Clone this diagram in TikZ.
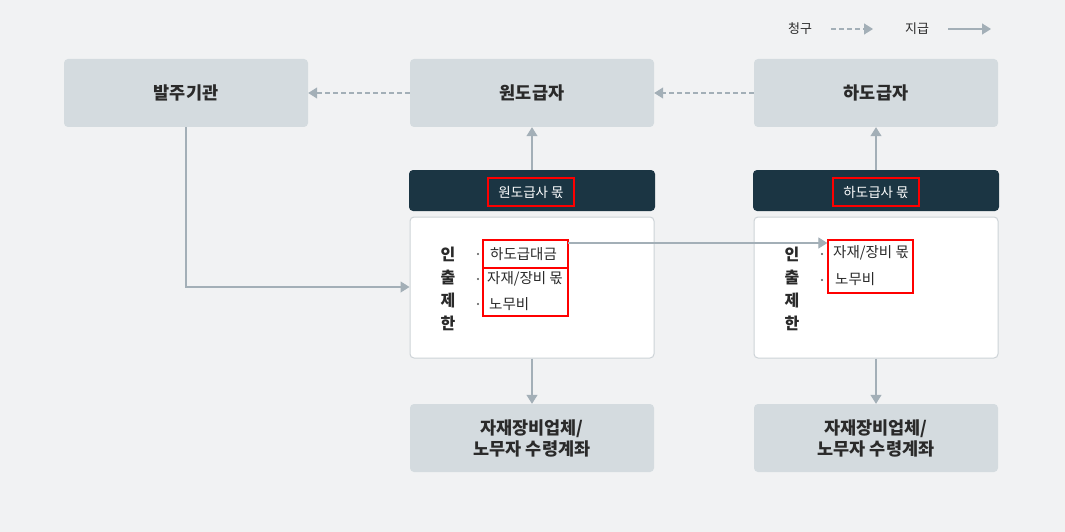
\documentclass[tikz,border=0pt]{standalone}
\usepackage{fontspec}
\setmainfont{Noto Sans CJK KR}
\usetikzlibrary{arrows.meta}
\definecolor{bg}{HTML}{F1F2F3}
\definecolor{boxfill}{HTML}{D4DBDF}
\definecolor{ln}{HTML}{A3AFB7}
\definecolor{dark}{HTML}{1B3543}
\definecolor{txt}{HTML}{2A2A2A}
\definecolor{wborder}{HTML}{CDD3D7}
\tikzset{
  topbox/.style={fill=boxfill, rounded corners=4pt, minimum width=244pt, minimum height=68pt, inner sep=0pt, font=\fontsize{17.5}{21}\selectfont\bfseries, text=txt, align=center},
  headbox/.style={fill=dark, rounded corners=4pt, minimum width=246pt, minimum height=41pt, inner sep=0pt},
  whitebox/.style={fill=white, draw=wborder, line width=1pt, rounded corners=4pt, minimum width=244pt, minimum height=141pt, inner sep=0pt},
  redbox/.style={draw=red, line width=1.3pt, inner sep=0pt},
  headtxt/.style={text=white, font=\fontsize{13.5}{15}\selectfont, inner sep=0pt},
  itemtxt/.style={text=txt, font=\fontsize{14.5}{16}\selectfont, inner sep=0pt, anchor=west},
  bul/.style={fill=txt!80, circle, minimum size=2.4pt, inner sep=0pt},
  vtxt/.style={text=txt, font=\fontsize{16}{23}\selectfont\bfseries, align=center, inner sep=0pt},
  pay/.style={draw=ln, line width=1.2pt, -{Triangle[length=9pt,width=11pt]}},
  claim/.style={draw=ln, line width=1.2pt, dash pattern=on 5pt off 3pt, -{Triangle[length=9pt,width=11pt]}},
  legtxt/.style={text=txt, font=\fontsize{13}{14}\selectfont, inner sep=0pt}
}
\begin{document}
\begin{tikzpicture}[x=1pt,y=-1pt]
\fill[bg] (0,0) rectangle (1065,532);
\useasboundingbox (0,0) rectangle (1065,532);
% legend
\node[legtxt] (lc) at (800,29) {청구};
\coordinate (lc1) at (831,29);
\coordinate (lc2) at (873,29);
\draw[claim] (lc1) -- (lc2);
\node[legtxt] (lp) at (917,29) {지급};
\coordinate (lp1) at (948,29);
\coordinate (lp2) at (991,29);
\draw[pay] (lp1) -- (lp2);
% top boxes
\node[topbox] (owner) at (186,93) {발주기관};
\node[topbox] (prime) at (532,93) {원도급자};
\node[topbox] (sub) at (876,93) {하도급자};
\draw[claim] (prime.west) -- (owner.east);
\draw[claim] (sub.west) -- (prime.east);
% headers
\node[headbox] (h1) at (532,190.5) {};
\node[headbox] (h2) at (876,190.5) {};
\node[headtxt] (h1t) at (531,192) {원도급사 몫};
\node[headtxt] (h2t) at (876,192) {하도급사 몫};
\node[redbox, minimum width=86pt, minimum height=28pt] (h1r) at (531,192) {};
\node[redbox, minimum width=86pt, minimum height=28pt] (h2r) at (876,192) {};
% white boxes
\node[whitebox] (w1) at (532,287.5) {};
\node[whitebox] (w2) at (876,287.5) {};
% bottom boxes
\node[topbox] (acc1) at (532,438) {자재장비업체/\\노무자 수령계좌};
\node[topbox] (acc2) at (876,438) {자재장비업체/\\노무자 수령계좌};
% vertical arrows
\draw[pay] (h1.north) -- (prime.south);
\draw[pay] (h2.north) -- (sub.south);
\draw[pay] (w1.south) -- (acc1.north);
\draw[pay] (w2.south) -- (acc2.north);
% owner to prime white box
\coordinate (oc) at (186,287);
\draw[pay] (owner.south) -- (oc) -- (w1.west |- oc);
% left contents
\node[vtxt] (v1) at (448,289) {인\\출\\제\\한};
\node[bul] (b11) at (478,254) {};
\node[bul] (b12) at (478,279) {};
\node[bul] (b13) at (478,304) {};
\node[itemtxt] (i11) at (490,254) {하도급대금};
\node[itemtxt] (i12) at (487,279) {자재/장비 몫};
\node[itemtxt] (i13) at (489,304) {노무비};
\node[redbox, minimum width=85pt, minimum height=28pt] (r11) at (525.5,254) {};
\node[redbox, minimum width=85pt, minimum height=48pt] (r12) at (525.5,292) {};
% right contents
\node[vtxt] (v2) at (792,289) {인\\출\\제\\한};
\node[bul] (b21) at (822,254) {};
\node[bul] (b22) at (822,280) {};
\node[itemtxt] (i21) at (833,253) {자재/장비 몫};
\node[itemtxt] (i22) at (835,279) {노무비};
\node[redbox, minimum width=85pt, minimum height=53pt] (r21) at (870.5,266.5) {};
% transfer arrow
\coordinate (ta) at (568,243);
\draw[pay] (ta) -- (ta -| r21.west);
\end{tikzpicture}
\end{document}
